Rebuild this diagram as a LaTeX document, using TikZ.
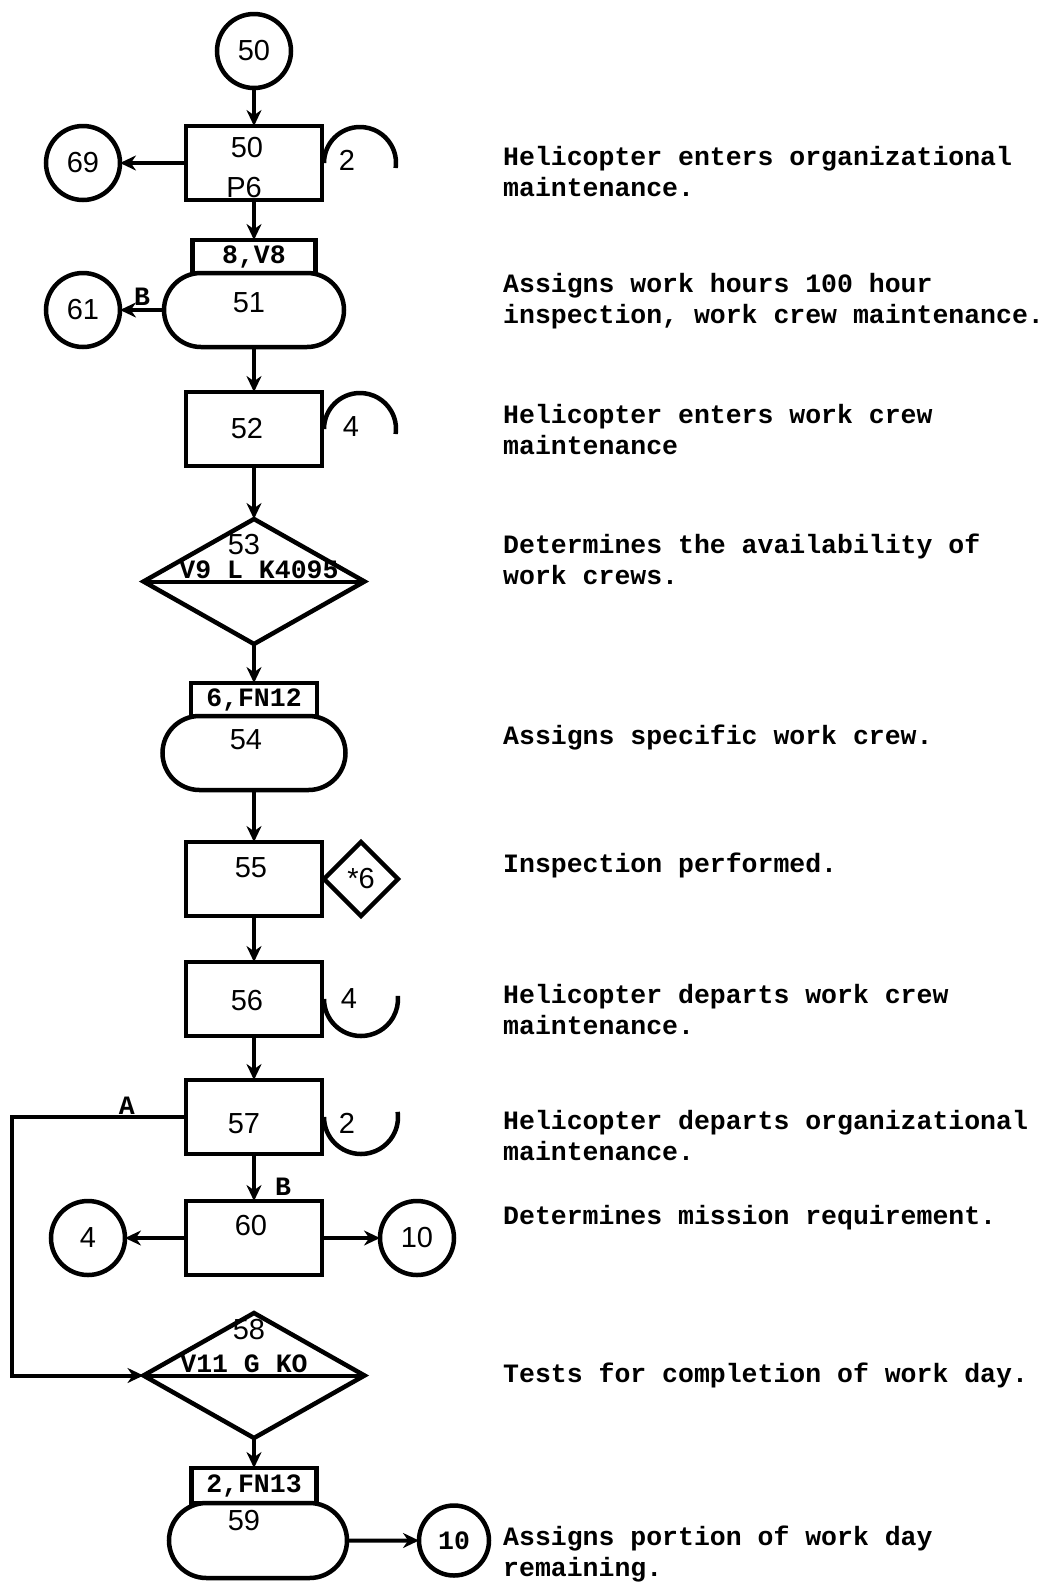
\documentclass[tikz,border=0pt]{standalone}
\usepackage{fontspec}
\setmainfont{Liberation Mono}
\newfontfamily\handfont{Liberation Sans}
\newcommand{\handtext}{\handfont\fontsize{29}{32}\selectfont}
\newcommand{\typetext}{\bfseries\fontsize{26.5}{31}\selectfont}
\usetikzlibrary{shapes.geometric,shapes.misc,arrows.meta,positioning}

\begin{document}
\begin{tikzpicture}[
    x=1pt, y=1pt,
    shapeline/.style={draw, line width=4.5pt, outer sep=0pt, inner sep=0pt},
    procbox/.style={shapeline, rectangle, minimum width=136pt, minimum height=74pt},
    tagbox/.style={shapeline, rectangle, minimum width=123pt, minimum height=33pt, font=\typetext},
    assignbox/.style={shapeline, rounded rectangle, minimum width=180pt, minimum height=74pt},
    testbox/.style={shapeline, diamond, minimum width=221pt, minimum height=125pt},
    connector/.style={shapeline, circle, minimum size=74pt, font=\handtext},
    hand/.style={font=\handtext, inner sep=1pt},
    typed/.style={font=\typetext, inner sep=1pt},
    note/.style={font=\typetext, anchor=west, align=left, inner sep=0pt},
    arrow/.style={-{Stealth[length=16pt,width=15pt]}, line width=4pt},
    tally/.style={line width=4.5pt}
]
\useasboundingbox (0,0) rectangle (1049,-1583);

% flow column
\node[connector] (c50) at (254,-51) {50};
\node[procbox, below=38pt of c50] (b50) {};
\node[hand] (n50) at ([shift={(-7pt,15pt)}]b50.center) {50};
\node[hand] (p50) at ([shift={(-10pt,-25pt)}]b50.center) {P6};
\node[connector, left=66pt of b50] (c69) {69};
\draw[tally] ([xshift=2pt]b50.east) arc[start angle=180, end angle=-8, radius=36pt];
\node[hand] (k50) at ([shift={(25pt,3pt)}]b50.east) {2};

\node[tagbox, below=40pt of b50] (t51) {8,V8};
\node[assignbox, below=0pt of t51] (o51) {};
\node[hand] (n51) at ([shift={(-5pt,7pt)}]o51.center) {51};
\node[connector, left=44pt of o51] (c61) {61};

\node[procbox, below=45pt of o51] (b52) {};
\node[hand] (n52) at ([xshift=-7pt]b52.center) {52};
\draw[tally] ([xshift=2pt]b52.east) arc[start angle=180, end angle=-8, radius=36pt];
\node[hand] (k52) at ([shift={(29pt,2pt)}]b52.east) {4};

\node[testbox, below=53pt of b52] (d53) {};
\draw[line width=4pt] (d53.west) -- (d53.east);
\node[hand] (n53) at ([shift={(-10pt,37pt)}]d53.center) {53};
\node[typed, anchor=base] (v53) at ([shift={(5pt,3pt)}]d53.center) {V9 L K4095};

\node[tagbox, below=39pt of d53, minimum width=126pt] (t54) {6,FN12};
\node[assignbox, below=0pt of t54, minimum width=183pt] (o54) {};
\node[hand] (n54) at ([shift={(-8pt,13pt)}]o54.center) {54};

\node[procbox, below=52pt of o54] (b55) {};
\node[hand] (n55) at ([shift={(-3pt,11pt)}]b55.center) {55};
\node[shapeline, diamond, minimum size=74pt, right=2pt of b55, font=\handtext] (s55) {*6};

\node[procbox, below=46pt of b55] (b56) {};
\node[hand] (n56) at ([shift={(-7pt,-2pt)}]b56.center) {56};
\draw[tally] ([xshift=2pt]b56.east) arc[start angle=180, end angle=365, radius=37pt];
\node[hand] (k56) at ([shift={(27pt,0pt)}]b56.east) {4};

\node[procbox, below=44pt of b56] (b57) {};
\node[hand] (n57) at ([shift={(-10pt,-7pt)}]b57.center) {57};
\draw[tally] ([xshift=2pt]b57.east) arc[start angle=180, end angle=368, radius=37pt];
\node[hand] (k57) at ([shift={(25pt,-6pt)}]b57.east) {2};

\node[procbox, below=47pt of b57] (b60) {};
\node[hand] (n60) at ([shift={(-3pt,12pt)}]b60.center) {60};
\node[connector, left=61pt of b60] (c4) {4};
\node[connector, right=58pt of b60] (c10a) {10};

\node[testbox, below=38pt of b60] (d58) {};
\draw[line width=4pt] (d58.west) -- (d58.east);
\node[hand] (n58) at ([shift={(-5pt,46pt)}]d58.center) {58};
\node[typed, anchor=base] (v58) at ([shift={(-10pt,3pt)}]d58.center) {V11 G KO};

\node[tagbox, below=30pt of d58, minimum width=125pt, minimum height=35pt] (t59) {2,FN13};
\node[assignbox, below=0pt of t59, xshift=4pt, minimum width=178pt, minimum height=75pt] (o59) {};
\node[hand] (n59) at ([shift={(-14pt,20pt)}]o59.center) {59};
\node[connector, right=72pt of o59, minimum size=70pt, font=\typetext] (c10b) {10};

% connectors
\draw[arrow] (c50) -- (b50);
\draw[arrow] (b50) -- (c69);
\draw[arrow] (b50) -- (t51);
\draw[arrow] (o51) -- node[typed, above, inner sep=3pt] (lb51) {B} (c61);
\draw[arrow] (o51) -- (b52);
\draw[arrow] (b52) -- (d53);
\draw[arrow] (d53) -- (t54);
\draw[arrow] (o54) -- (b55);
\draw[arrow] (b55) -- (b56);
\draw[arrow] (b56) -- (b57);
\draw[arrow] (b57) -- node[typed, right, pos=0.7, xshift=18pt] (lb57) {B} (b60);
\draw[arrow] (b60) -- (c4);
\draw[arrow] (b60) -- (c10a);
\coordinate (aturn) at ([xshift=-174pt]b57.west);
\draw[arrow] (b57.west) -- node[typed, above, pos=0.34, inner sep=1pt] (la57) {A} (aturn) |- (d58.west);
\draw[arrow] (d58) -- (t59);
\draw[arrow] (o59) -- (c10b);

% descriptions
\node[note] (d50) at (503,-172) {Helicopter enters organizational\\maintenance.};
\node[note] (d51) at (503,-301) {Assigns work hours 100 hour\\inspection, work crew maintenance.};
\node[note] (d52) at (503,-430) {Helicopter enters work crew\\maintenance};
\node[note] (d53t) at (503,-559) {Determines the availability of\\work crews.};
\node[note] (d54) at (503,-738) {Assigns specific work crew.};
\node[note] (d55) at (503,-865) {Inspection performed.};
\node[note] (d56) at (503,-1010) {Helicopter departs work crew\\maintenance.};
\node[note] (d57) at (503,-1136) {Helicopter departs organizational\\maintenance.};
\node[note] (d60) at (503,-1218) {Determines mission requirement.};
\node[note] (d58t) at (503,-1375) {Tests for completion of work day.};
\node[note] (d59) at (503,-1554) {Assigns portion of work day\\remaining.};
\end{tikzpicture}
\end{document}
